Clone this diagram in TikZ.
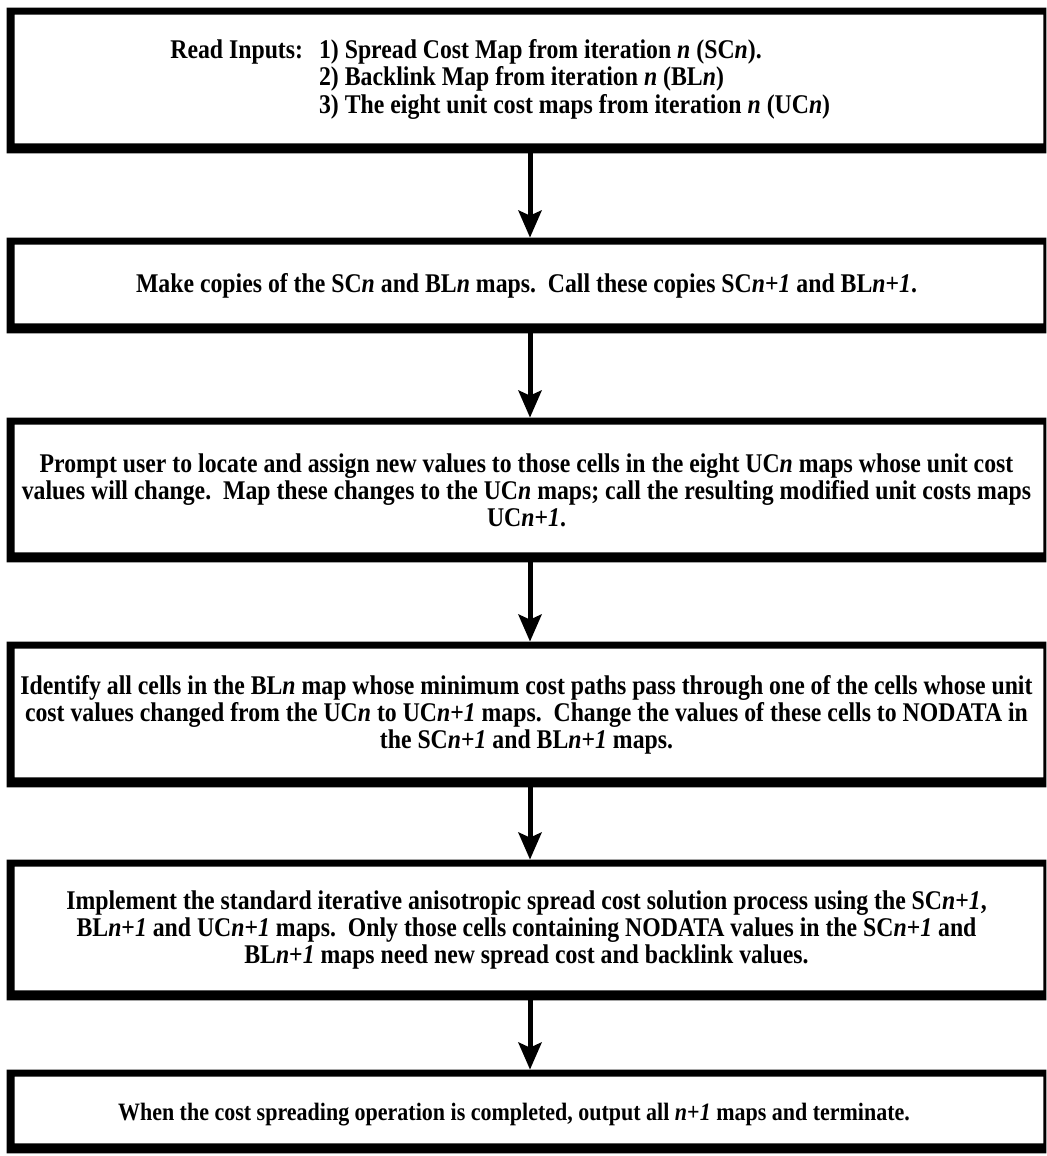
\documentclass[tikz,border=0pt]{standalone}
\usepackage{fontspec}
\setmainfont{Liberation Serif}[FakeStretch=0.88]
\usetikzlibrary{arrows.meta}
\tikzset{
  flowbox/.style={rectangle, inner sep=0pt, minimum width=519.5pt, align=center,
    font=\bfseries\fontsize{13.5}{13.5}\selectfont},
  boxh/.style={minimum height=#1*0.5pt},
  flowtext/.style={inner sep=0pt, font=\bfseries\fontsize{13.5}{13.5}\selectfont},
  flowarrow/.style={line width=2.5pt, -{Stealth[length=13.5pt,width=11.5pt,inset=2.5pt]}},
  framefill/.style={fill=black, even odd rule}
}
\newcommand{\itn}{\textit{n}}
\newcommand{\ipo}{\textit{n}+\textit{1}}
\begin{document}
\begin{tikzpicture}[x=0.5pt,y=-0.5pt]
\useasboundingbox (0,0) rectangle (1047,1156);
% boxes
\node[flowbox, boxh=145] (b1) at (526.5,80.5) {};
\node[flowtext, anchor=west] (t1) at (170,80.5) {\begin{tabular}{@{}l@{\hspace{8pt}}l@{}}
Read Inputs: & 1) Spread Cost Map from iteration \itn{} (SC\itn).\\
 & 2) Backlink Map from iteration \itn{} (BL\itn)\\
 & 3) The eight unit cost maps from iteration \itn{} (UC\itn)
\end{tabular}};
\node[flowbox, boxh=95] (b2) at (526.5,285.5) {Make copies of the SC\itn{} and BL\itn{} maps.\ \ Call these copies SC\ipo{} and BL\ipo.};
\node[flowbox, boxh=144] (b3) at (526.5,490) {Prompt user to locate and assign new values to those cells in the eight UC\itn{} maps whose unit cost\\
values will change.\ \ Map these changes to the UC\itn{} maps; call the resulting modified unit costs maps\\
UC\ipo.};
\node[flowbox, boxh=145] (b4) at (526.5,714.5) {Identify all cells in the BL\itn{} map whose minimum cost paths pass through one of the cells whose unit\\
cost values changed from the UC\itn{} to UC\ipo{} maps.\ \ Change the values of these cells to NODATA in\\
the SC\ipo{} and BL\ipo{} maps.};
\node[flowbox, boxh=140] (b5) at (526.5,930) {Implement the standard iterative anisotropic spread cost solution process using the SC\ipo,\\
BL\ipo{} and UC\ipo{} maps.\ \ Only those cells containing NODATA values in the SC\ipo{} and\\
BL\ipo{} maps need new spread cost and backlink values.};
\node[flowbox, boxh=83] (b6) at (526.5,1111.5) {};
\node[flowtext, font=\bfseries\fontsize{12.5}{13.5}\selectfont] (t6) at (514,1115) {When the cost spreading operation is completed, output all \ipo{} maps and terminate.};
% frames
\foreach \n in {b1,b2,b3,b4,b5,b6}{
  \fill[framefill] (\n.south west) rectangle (\n.north east)
    ([shift={(8,-10)}]\n.south west) rectangle ([shift={(-3,7)}]\n.north east);
}
% arrows
\draw[flowarrow] ([xshift=1.75pt]b1.south) -- ([xshift=1.75pt]b2.north);
\draw[flowarrow] ([xshift=1.75pt]b2.south) -- ([xshift=1.75pt]b3.north);
\draw[flowarrow] ([xshift=1.75pt]b3.south) -- ([xshift=1.75pt]b4.north);
\draw[flowarrow] ([xshift=1.75pt]b4.south) -- ([xshift=1.75pt]b5.north);
\draw[flowarrow] ([xshift=1.75pt]b5.south) -- ([xshift=1.75pt]b6.north);
\end{tikzpicture}
\end{document}
